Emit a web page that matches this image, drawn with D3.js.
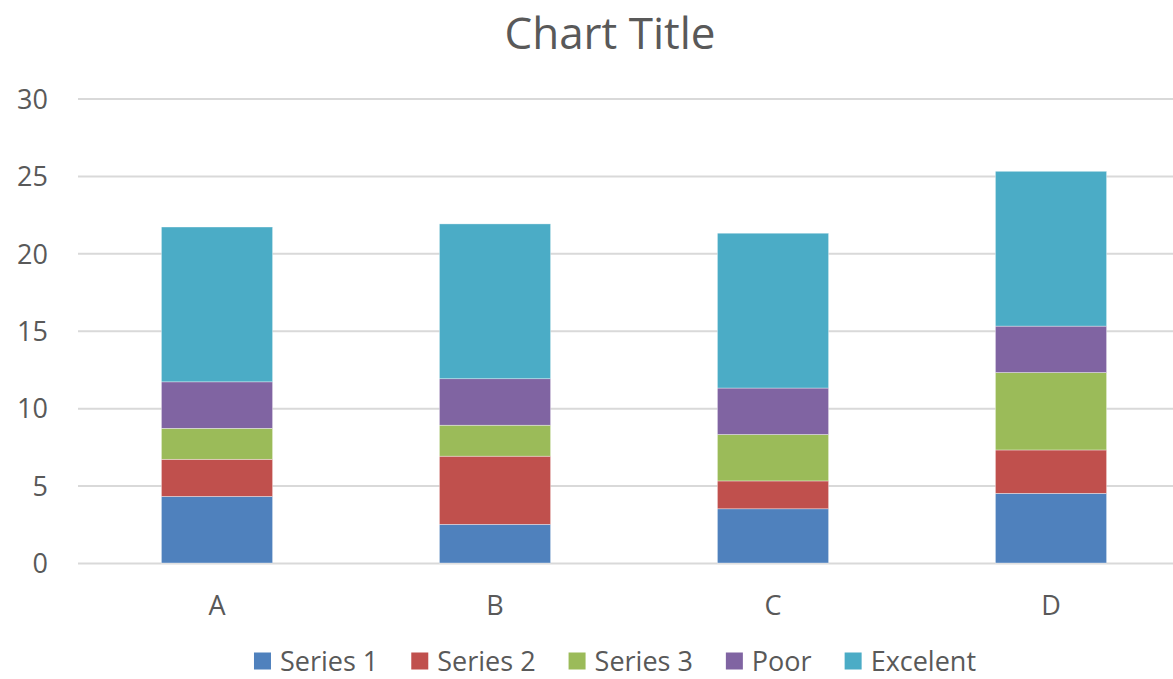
<!DOCTYPE html>
<html><head><meta charset="utf-8">
<script src="https://cdn.jsdelivr.net/npm/d3@7"></script>
<style>body{margin:0;background:#fff;}svg{display:block;}</style>
</head><body>
<script>
const categories = ["A","B","C","D"];
const seriesNames = ["Series 1","Series 2","Series 3","Poor","Excelent"];
const series1 = [4.3,2.5,3.5,4.5];
const series2 = [2.4,4.4,1.8,2.8];
const series3 = [2,2,3,5];
const poor = [3,3,3,3];
const excelent = [10,10,10,10];
const yTicks = [0,5,10,15,20,25,30];
const colors = ["#4F81BD","#C0504D","#9BBB59","#8064A2","#4BACC6"];

const W=1173,H=679;
const font="'Open Sans', sans-serif";
const txt="#595959";
const svg=d3.select("body").append("svg").attr("width",W).attr("height",H);

const rows=categories.map((c,i)=>({cat:c,"Series 1":series1[i],"Series 2":series2[i],"Series 3":series3[i],"Poor":poor[i],"Excelent":excelent[i]}));
const stacked=d3.stack().keys(seriesNames)(rows);

const x=d3.scaleBand().domain(categories).range([78,1190]).paddingInner(0.6).paddingOuter(0.3);
const y=d3.scaleLinear().domain([0,30]).range([563,98.5]);

// gridlines
const yAxis=d3.axisLeft(y).tickValues(yTicks).tickSize(-(1190-78)).tickPadding(30);
const gy=svg.append("g").attr("transform","translate(78,0)").call(yAxis);
gy.select(".domain").remove();
gy.selectAll(".tick line").attr("stroke","#D9D9D9").attr("stroke-width",2);
gy.selectAll(".tick text").attr("fill",txt).style("font-family",font).style("font-size","27px").attr("x",-30).attr("dy","0.36em");

// bars
svg.append("g").selectAll("g").data(stacked).join("g").attr("fill",(d,i)=>colors[i])
 .selectAll("rect").data(d=>d).join("rect")
 .attr("x",d=>x(d.data.cat)).attr("width",x.bandwidth())
 .attr("y",d=>y(d[1])).attr("height",d=>y(d[0])-y(d[1]))
 .attr("stroke","#fff").attr("stroke-width",0.6).attr("stroke-opacity",0.6);

// x axis labels
const xAxis=d3.axisBottom(x).tickSize(0).tickPadding(0);
const gx=svg.append("g").attr("transform","translate(0,563)").call(xAxis);
gx.select(".domain").remove();
gx.selectAll(".tick text").attr("fill",txt).style("font-family",font).style("font-size","27px").attr("y",42).attr("dy","0.36em");

// title
svg.append("text").attr("x",610).attr("y",49).attr("text-anchor","middle").attr("fill",txt)
 .style("font-family",font).style("font-size","44px").text("Chart Title");

// legend
const lg=svg.append("g");
const items=lg.selectAll("g").data(seriesNames).join("g");
items.append("rect").attr("width",17).attr("height",17).attr("y",-8.5).attr("fill",(d,i)=>colors[i]);
items.append("text").attr("x",26).attr("dy","0.36em").attr("fill",txt).style("font-family",font).style("font-size","27px").text(d=>d);
let xpos=0;
items.each(function(){
  const w=this.getBBox().width;
  d3.select(this).attr("transform",`translate(${xpos},0)`);
  xpos+=w+33;
});
const total=xpos-33;
lg.attr("transform",`translate(${615-total/2},661)`);
</script>
</body></html>
